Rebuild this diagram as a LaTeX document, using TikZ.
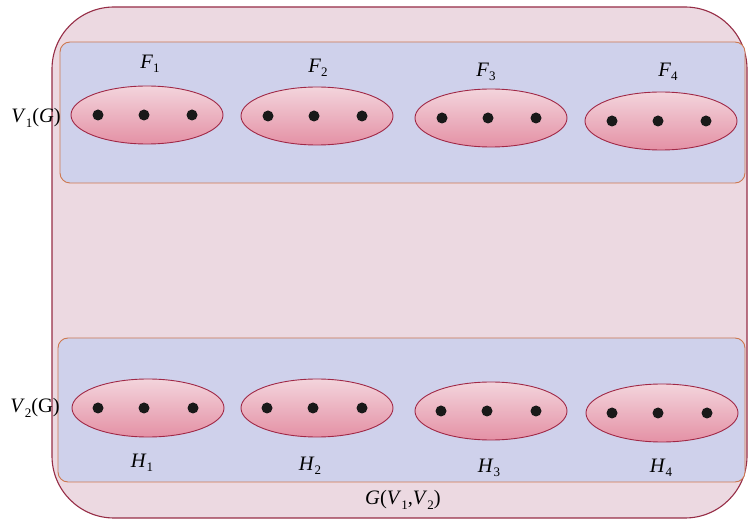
\documentclass[tikz,border=0pt]{standalone}
\usepackage{fontspec}
\setmainfont{Liberation Serif}
\usetikzlibrary{shapes.geometric}
\definecolor{outerfill}{RGB}{236,217,225}
\definecolor{outerline}{RGB}{150,45,70}
\definecolor{bandfill}{RGB}{207,209,235}
\definecolor{bandline}{RGB}{205,120,80}
\definecolor{elltop}{RGB}{243,212,220}
\definecolor{ellbot}{RGB}{228,145,165}
\definecolor{elline}{RGB}{160,40,70}
\definecolor{dotcol}{RGB}{25,25,25}
\newcommand\lbl[2]{\textit{#1}\raisebox{-0.45ex}{\fontsize{13}{14}\selectfont #2}}
\begin{document}
\begin{tikzpicture}[x=1pt,y=-1pt,
  outerbox/.style={draw=outerline,fill=outerfill,line width=1.1pt,rounded corners=62pt,inner sep=0pt},
  band/.style={draw=bandline,fill=bandfill,line width=0.9pt,rounded corners=10pt,inner sep=0pt},
  part/.style={ellipse,draw=elline,line width=0.9pt,top color=elltop,bottom color=ellbot,minimum width=152pt,minimum height=58pt,inner sep=0pt},
  vtx/.style={circle,fill=dotcol,minimum size=11pt,inner sep=0pt},
  txt/.style={font=\fontsize{20.5}{24}\selectfont,inner sep=0pt}]
\useasboundingbox (0,0) rectangle (748,521);
\fill[white] (0,0) rectangle (748,521);
\node[outerbox,minimum width=695pt,minimum height=511pt] (G) at (399.5,262.5) {};
\node[band,minimum width=685pt,minimum height=141pt] (V1) at (402.5,112.5) {};
\node[band,minimum width=687pt,minimum height=144pt] (V2) at (401.5,410) {};
\foreach \i/\x/\y in {1/147/115,2/317/116,3/491/118,4/661/121}{
  \node[part] (F\i) at (\x,\y) {};
  \node[vtx] (F\i a) at (\x-49,\y) {};
  \node[vtx] (F\i b) at (\x-3,\y) {};
  \node[vtx] (F\i c) at (\x+45,\y) {};
}
\foreach \i/\x/\y in {1/148/408,2/317/408,3/491/411,4/662/413}{
  \node[part] (H\i) at (\x,\y) {};
  \node[vtx] (H\i a) at (\x-50,\y) {};
  \node[vtx] (H\i b) at (\x-4,\y) {};
  \node[vtx] (H\i c) at (\x+45,\y) {};
}
\node[txt] (lF1) at (150,64) {\lbl{F}{1}};
\node[txt] (lF2) at (318,68) {\lbl{F}{2}};
\node[txt] (lF3) at (486,72) {\lbl{F}{3}};
\node[txt] (lF4) at (668,72) {\lbl{F}{4}};
\node[txt] (lH1) at (142,463) {\lbl{H}{1}};
\node[txt] (lH2) at (310,466) {\lbl{H}{2}};
\node[txt] (lH3) at (489,468) {\lbl{H}{3}};
\node[txt] (lH4) at (661,468) {\lbl{H}{4}};
\node[txt] (lV1) at (36,118) {\lbl{V}{1}(\textit{G})};
\node[txt] (lV2) at (35,408) {\lbl{V}{2}(G)};
\node[txt] (lG) at (403,500) {\textit{G}(\lbl{V}{1},\lbl{V}{2})};
\end{tikzpicture}
\end{document}
